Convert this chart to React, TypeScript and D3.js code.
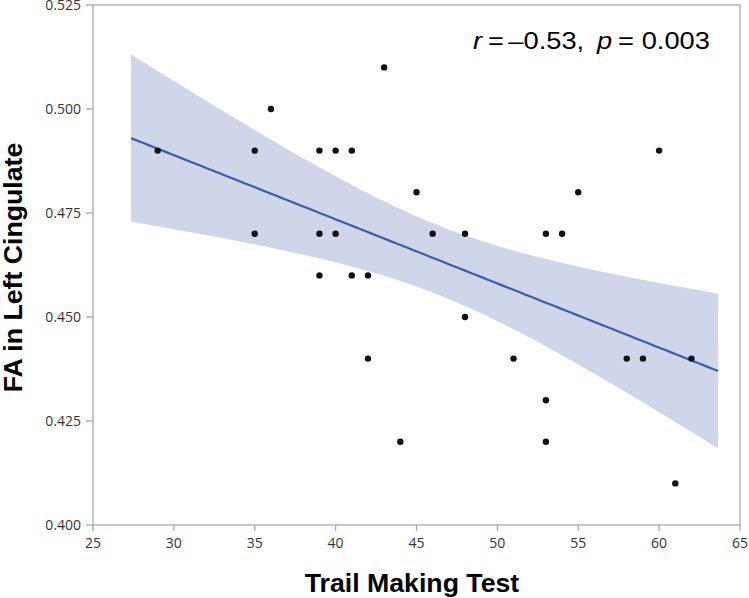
import React from "react";
import * as d3 from "d3";

// Data
const trailMaking = [29, 35, 35, 36, 39, 39, 39, 40, 40, 41, 41, 42, 42, 43, 44, 45, 46, 48, 48, 51, 53, 53, 53, 54, 55, 58, 59, 60, 61, 62];
const faCingulate = [0.49, 0.49, 0.47, 0.5, 0.49, 0.47, 0.46, 0.49, 0.47, 0.49, 0.46, 0.46, 0.44, 0.51, 0.42, 0.48, 0.47, 0.47, 0.45, 0.44, 0.47, 0.43, 0.42, 0.47, 0.48, 0.44, 0.44, 0.49, 0.41, 0.44];
const xTicks = [25, 30, 35, 40, 45, 50, 55, 60, 65];
const yTicks = [0.4, 0.425, 0.45, 0.475, 0.5, 0.525];
const xLabel = "Trail Making Test";
const yLabel = "FA in Left Cingulate";
const tCrit = 2.048; // t(0.975, df = 28)

const W = 749;
const H = 598;
const M = { left: 93, right: 740, top: 5, bottom: 525 };

export default function App() {
  const x = d3.scaleLinear().domain([25, 65]).range([M.left, M.right]);
  const y = d3.scaleLinear().domain([0.4, 0.525]).range([M.bottom, M.top]);

  const n = trailMaking.length;
  const mx = d3.mean(trailMaking)!;
  const my = d3.mean(faCingulate)!;
  let sxx = 0, sxy = 0;
  trailMaking.forEach((xv, i) => {
    sxx += (xv - mx) ** 2;
    sxy += (xv - mx) * (faCingulate[i] - my);
  });
  const slope = sxy / sxx;
  const icpt = my - slope * mx;
  let sse = 0;
  trailMaking.forEach((xv, i) => {
    sse += (faCingulate[i] - (icpt + slope * xv)) ** 2;
  });
  const s = Math.sqrt(sse / (n - 2));
  const [xmin, xmax] = d3.extent(trailMaking) as [number, number];
  const pad = (xmax - xmin) * 0.05;
  const grid = d3.range(0, 101).map((k) => xmin - pad + ((xmax - xmin + 2 * pad) * k) / 100);
  const band = grid.map((xv) => {
    const fit = icpt + slope * xv;
    const se = s * Math.sqrt(1 / n + (xv - mx) ** 2 / sxx);
    return { x: xv, fit, lo: fit - tCrit * se, hi: fit + tCrit * se };
  });
  const area = d3
    .area<any>()
    .x((d) => x(d.x))
    .y0((d) => y(d.lo))
    .y1((d) => y(d.hi));
  const line = d3
    .line<any>()
    .x((d) => x(d.x))
    .y((d) => y(d.fit));

  const tickFont = "'Open Sans', sans-serif";
  const axisColor = "#a9a9a9";

  return (
    <svg width={W} height={H} style={{ position: "absolute", left: 0, top: 0, background: "#fff" }}>
      <path d={area(band)!} fill="#cfd6ea" />
      <path d={line(band)!} fill="none" stroke="#3a5cb0" strokeWidth={2.2} />
      {trailMaking.map((xv, i) => (
        <circle key={i} cx={x(xv)} cy={y(faCingulate[i])} r={3.2} fill="#111" />
      ))}
      <rect x={M.left} y={M.top} width={M.right - M.left} height={M.bottom - M.top} fill="none" stroke={axisColor} strokeWidth={1.3} />
      {xTicks.map((t) => (
        <g key={t}>
          <line x1={x(t)} x2={x(t)} y1={M.bottom} y2={M.bottom + 6} stroke={axisColor} strokeWidth={1.3} />
          <text x={x(t)} y={548} textAnchor="middle" fontFamily={tickFont} fontSize={14} fill="#333">
            {t}
          </text>
        </g>
      ))}
      {yTicks.map((t) => (
        <g key={t}>
          <line x1={M.left - 7} x2={M.left} y1={y(t)} y2={y(t)} stroke={axisColor} strokeWidth={1.3} />
          <text x={81} y={y(t)} dy="0.35em" textAnchor="end" fontFamily={tickFont} fontSize={14} fill="#333">
            {d3.format(".3f")(t)}
          </text>
        </g>
      ))}
      <text x={412} y={592} textAnchor="middle" fontFamily="'Liberation Sans', Arial, sans-serif" fontWeight="bold" fontSize={26.7} fill="#000">
        {xLabel}
      </text>
      <text
        transform={`translate(22,${267.5}) rotate(-90)`}
        textAnchor="middle"
        fontFamily="'Liberation Sans', Arial, sans-serif"
        fontWeight="bold"
        fontSize={26.7}
        fill="#000"
      >
        {yLabel}
      </text>
      <g transform="translate(473,49) scale(1.16,1)">
        <text y={0} fontFamily="'Liberation Sans', Arial, sans-serif" fontSize={23.5} fill="#000">
          <tspan x={0} fontStyle="italic">r</tspan>
          <tspan x={12.9}>=</tspan>
          <tspan x={30.5}>–0.53,</tspan>
          <tspan x={106.9} fontStyle="italic">p</tspan>
          <tspan x={125}>=</tspan>
          <tspan x={145.4}>0.003</tspan>
        </text>
      </g>
    </svg>
  );
}
